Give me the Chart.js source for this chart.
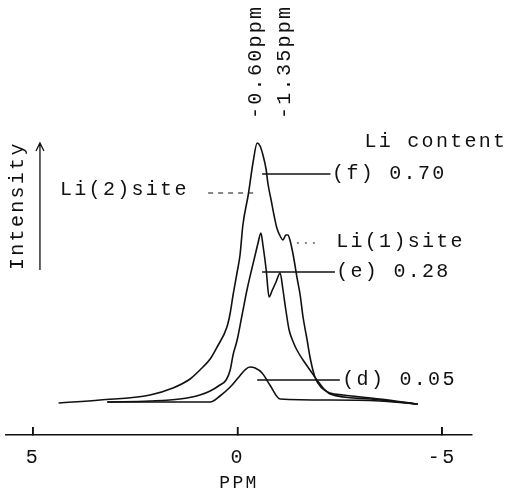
<!DOCTYPE html>
<html>
<head>
<meta charset="utf-8">
<script src="https://cdn.jsdelivr.net/npm/chart.js@4/dist/chart.umd.min.js"></script>
<style>
html,body{margin:0;padding:0;background:#fff;}
canvas{display:block;}
</style>
</head>
<body>
<canvas id="c" width="513" height="488"></canvas>
<script>
// ---- data (chemical shift in ppm, intensity in arbitrary units) ----
const ppmF = [4.36, 3.36, 2.14, 1.58, 1.16, 0.92, 0.67, 0.50, 0.26, 0.18, 0.11, 0.01, -0.06, -0.13, -0.26, -0.38, -0.48, -0.55, -0.62, -0.70, -0.74, -0.82, -0.89, -0.96, -1.04, -1.11, -1.18, -1.23, -1.28, -1.36, -1.45, -1.53, -1.60, -1.70, -1.77, -1.89, -2.06, -2.26, -2.58, -3.48, -4.39];
const intF = [32, 35, 40, 47, 56, 65, 76, 88, 108, 122, 140, 163, 180, 210, 240, 273, 292, 289, 280, 265, 252, 235, 220, 207, 199, 195, 200, 200, 195, 180, 158, 140, 118, 95, 78, 58, 47, 42, 40, 36, 31];

const ppmE = [3.17, 2.14, 1.41, 0.92, 0.67, 0.43, 0.28, 0.18, 0.11, 0.01, -0.11, -0.23, -0.33, -0.43, -0.50, -0.57, -0.62, -0.70, -0.77, -0.84, -0.94, -1.04, -1.11, -1.18, -1.26, -1.36, -1.45, -1.60, -1.77, -1.94, -2.09, -2.26, -3.24, -4.39];
const intE = [33, 34, 36, 40, 44, 50, 55, 65, 80, 95, 120, 145, 163, 180, 192, 202, 190, 165, 138, 144, 153, 162, 145, 125, 105, 93, 85, 75, 65, 55, 47, 41, 36, 31];

const ppmD = [3.17, 2.14, 0.67, 0.43, 0.18, -0.01, -0.18, -0.30, -0.43, -0.60, -0.79, -1.04, -2.26, -3.48, -4.39];
const intD = [33, 33, 33, 39, 48, 57, 65, 68, 67, 62, 50, 36, 35, 34, 31];

const seriesNames = ['(f)', '(e)', '(d)'];
const liContent = ['0.70', '0.28', '0.05'];
const tickVals = [5, 0, -5];
const peakLabels = ['-0.60ppm', '-1.35ppm'];

// ---- annotation layout (data coordinates) ----
const FONT = '"Liberation Mono", "Courier New", monospace';
const FS = 20;
const LS = 2.3;
const leaderFrom = [-0.60, -0.60, -0.48];
const leaderTo = [-2.27, -2.38, -2.50];
const leaderY = [261, 163, 55];
const leaderTextX = [-2.31, -2.41, -2.56];

function pts(xs, ys) { return xs.map((x, i) => ({x: x, y: ys[i]})); }

const lineStyle = {
  borderColor: '#111', borderWidth: 1.6, pointRadius: 0, fill: false,
  cubicInterpolationMode: 'monotone', borderJoinStyle: 'round', borderCapStyle: 'round'
};

const annot = {
  id: 'annot',
  beforeDraw(chart) { chart.ctx.letterSpacing = LS + 'px'; },
  afterDraw(chart) {
    const ctx = chart.ctx;
    const xs = chart.scales.x, ys = chart.scales.y;
    const X = v => xs.getPixelForValue(v), Y = v => ys.getPixelForValue(v);
    ctx.save();
    ctx.letterSpacing = LS + 'px';
    ctx.strokeStyle = '#111';
    ctx.fillStyle = '#111';
    ctx.lineWidth = 1.5;
    // inward tick marks on the ppm axis
    ctx.beginPath();
    tickVals.forEach(v => {
      ctx.moveTo(X(v), ys.getPixelForValue(0));
      ctx.lineTo(X(v), ys.getPixelForValue(0) - 8);
    });
    ctx.stroke();
    ctx.font = FS + 'px ' + FONT;
    ctx.textBaseline = 'middle';
    ctx.textAlign = 'left';
    // leader lines + Li content labels
    for (let i = 0; i < seriesNames.length; i++) {
      ctx.beginPath();
      ctx.moveTo(X(leaderFrom[i]), Y(leaderY[i]));
      ctx.lineTo(X(leaderTo[i]), Y(leaderY[i]));
      ctx.stroke();
      ctx.fillText(seriesNames[i] + ' ' + liContent[i], X(leaderTextX[i]), Y(leaderY[i]));
    }
    ctx.fillText('Li content', X(-3.10), Y(293));
    // Li(2) site
    ctx.fillText('Li(2)site', X(4.34), Y(245));
    ctx.save();
    ctx.lineWidth = 1;
    ctx.setLineDash([5, 5]);
    ctx.beginPath();
    ctx.moveTo(X(0.72), Y(242));
    ctx.lineTo(X(-0.45), Y(242));
    ctx.stroke();
    // Li(1) site
    ctx.setLineDash([2, 6]);
    ctx.beginPath();
    ctx.moveTo(X(-1.45), Y(192));
    ctx.lineTo(X(-2.02), Y(192));
    ctx.stroke();
    ctx.restore();
    ctx.fillText('Li(1)site', X(-2.41), Y(193));
    // rotated peak labels
    const peakX = [-0.45, -1.14];
    peakLabels.forEach((t, i) => {
      ctx.save();
      ctx.translate(X(peakX[i]), Y(316));
      ctx.rotate(-Math.PI / 2);
      ctx.fillText(t, 0, 0);
      ctx.restore();
    });
    // Intensity label and arrow
    ctx.save();
    ctx.translate(X(5.37), Y(165));
    ctx.rotate(-Math.PI / 2);
    ctx.fillText('Intensity', 0, 0);
    ctx.restore();
    const ax = X(4.83);
    ctx.lineWidth = 1.3;
    ctx.beginPath();
    ctx.moveTo(ax, Y(165));
    ctx.lineTo(ax, Y(292));
    ctx.moveTo(ax - 4, Y(284));
    ctx.lineTo(ax, Y(292));
    ctx.lineTo(ax + 4, Y(284));
    ctx.stroke();
    ctx.restore();
  }
};

new Chart(document.getElementById('c'), {
  type: 'line',
  data: {
    datasets: [
      Object.assign({label: seriesNames[0], data: pts(ppmF, intF)}, lineStyle),
      Object.assign({label: seriesNames[1], data: pts(ppmE, intE)}, lineStyle),
      Object.assign({label: seriesNames[2], data: pts(ppmD, intD)}, lineStyle)
    ]
  },
  options: {
    responsive: false,
    animation: false,
    layout: {padding: {left: 6, right: 41, top: 5, bottom: 0}},
    plugins: {legend: {display: false}, tooltip: {enabled: false}},
    scales: {
      x: {
        type: 'linear', reverse: true, min: -5.73, max: 5.66,
        afterBuildTicks: s => { s.ticks = tickVals.map(v => ({value: v})); },
        afterFit: s => { s.height = 53; },
        grid: {display: true, drawOnChartArea: false, drawTicks: true, tickLength: -8, color: '#111', lineWidth: 1.5},
        border: {display: true, color: '#111', width: 1.5},
        ticks: {color: '#111', font: {family: FONT, size: FS}, padding: 19, maxRotation: 0, autoSkip: false,
                callback: v => String(v)},
        title: {display: true, text: 'PPM', color: '#111', font: {family: FONT, size: 18, lineHeight: 0.5},
                padding: {top: 0, bottom: 0}}
      },
      y: {display: false, min: 0, max: 430}
    }
  },
  plugins: [annot]
});
</script>
</body>
</html>
